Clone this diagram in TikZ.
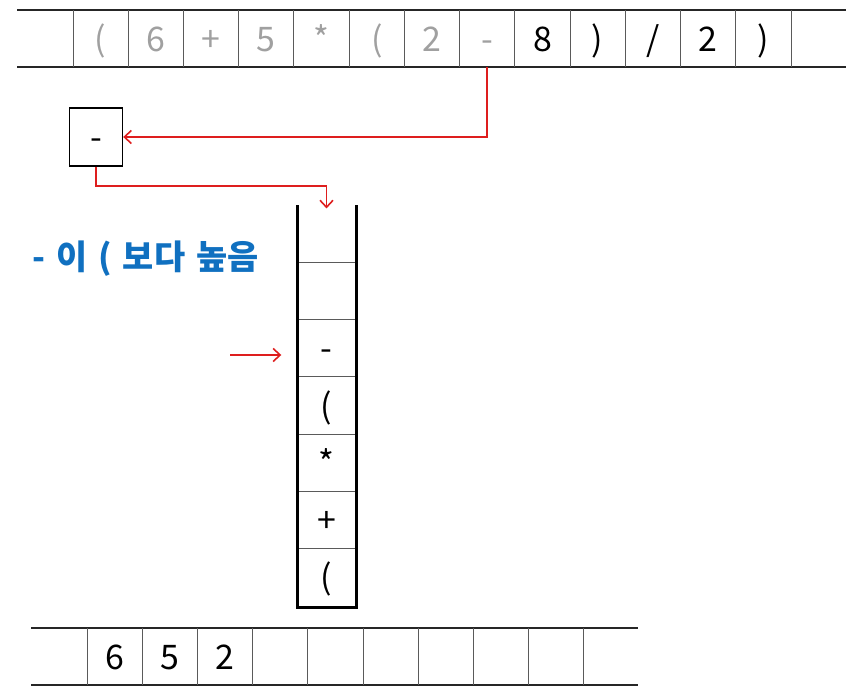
\documentclass[tikz,border=0pt]{standalone}
\usepackage{fontspec}
\setmainfont{Noto Sans CJK KR}
\usetikzlibrary{arrows.meta}
\definecolor{lgray}{RGB}{160,160,160}
\definecolor{dgray}{RGB}{90,90,90}
\definecolor{myred}{RGB}{222,30,30}
\definecolor{myblue}{RGB}{16,112,192}
\begin{document}
\begin{tikzpicture}[x=1bp,y=-1bp,
  cellfont/.style={font=\fontsize{34}{38}\selectfont, text height=25bp, text depth=0pt},
  cell/.style={cellfont, minimum width=54bp, minimum height=56bp, inner sep=0pt},
  hline/.style={line width=1.8bp, black!85},
  vline/.style={line width=0.9bp, dgray},
  wall/.style={line width=3bp, black},
  redarrow/.style={myred, line width=1.6bp, -{Straight Barb[length=7bp,width=13bp,line width=1.6bp]}},
  note/.style={font=\fontsize{34}{38}\selectfont\bfseries, text=myblue, anchor=west, inner sep=0pt}
]
\useasboundingbox (0,0) rectangle (859,695);
% ---------- top row ----------
\draw[hline] (17,10) -- (846,10);
\draw[hline] (17,67) -- (846,67);
\foreach \k in {0,...,13} \draw[vline] ({73+55.23*\k},10) -- ({73+55.23*\k},67);
\foreach \t [count=\i] in {{(},{6},{+},{5},{*},{(},{2},{-}}
  \node[cell, text=lgray] (t\i) at ({73+55.23*(\i-0.5)},39) {\t};
\foreach \t [count=\i from 9] in {{8},{)},{/},{2},{)}}
  \node[cell, text=black] (t\i) at ({73+55.23*(\i-0.5)},39) {\t};
% ---------- small box ----------
\node[draw, line width=1.4bp, minimum width=53bp, minimum height=58bp, inner sep=0pt,
      cellfont] (box) at (96,137) {-};
% ---------- stack ----------
\foreach \k in {1,...,6} \draw[vline] (297,{205+57.3*\k}) -- (356,{205+57.3*\k});
\draw[wall] (297,205) -- (297,607) -- (356,607) -- (356,205);
\foreach \t [count=\i] in {{},{},{-},{(},{*},{+},{(}}
  \node[cell, minimum width=56bp] (s\i) at (326.5,{205+57.3*(\i-0.5)}) {\t};
% ---------- note ----------
\node[note] (note) at (32,259) {-\hspace{11bp}이\hspace{11bp}(\hspace{11bp}보다\hspace{11bp}높음};
% ---------- bottom row ----------
\draw[hline] (31,628) -- (638,628);
\draw[hline] (31,685) -- (638,685);
\foreach \k in {0,...,9} \draw[vline] ({87+55.2*\k},628) -- ({87+55.2*\k},685);
\foreach \t [count=\i] in {{6},{5},{2}}
  \node[cell] (b\i) at ({87+55.2*(\i-0.5)},656.5) {\t};
% ---------- arrows ----------
\draw[redarrow] (t8.south) |- (box.east);
\draw[redarrow] (box.south) -- ++(0,19) -| ([yshift=-3bp]s1.north);
\coordinate (a3) at (230,355);
\draw[redarrow, shorten >=17bp] (a3) -- (s3.west |- a3);
\end{tikzpicture}
\end{document}
